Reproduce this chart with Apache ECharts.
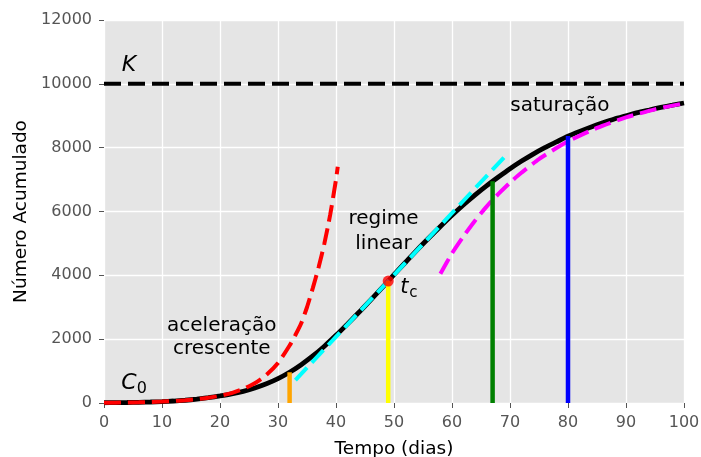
<!DOCTYPE html>
<html>
<head>
<meta charset="utf-8">
<script src="https://cdn.jsdelivr.net/npm/echarts@6/dist/echarts.min.js"></script>
<style>
html,body{margin:0;padding:0;background:#fff;}
#chart{width:701px;height:457px;}
</style>
</head>
<body>
<div id="chart"></div>
<script>
// ---- data ----
const K = 10000;
const tCurve = [0,2,4,6,8,10,12,14,16,18,20,22,24,26,28,30,32,34,36,38,40,42,44,46,48,49,50,52,54,56,58,60,62,64,66,68,70,72,74,76,78,80,82,84,86,88,90,92,94,96,98,100];
const cCurve = [8,11,16,22,32,44,62,86,120,165,220,284,366,470,600,762,962,1200,1473,1780,2120,2480,2850,3230,3620,3820,4020,4410,4800,5170,5530,5880,6210,6520,6810,7080,7340,7580,7800,8000,8180,8360,8510,8650,8780,8900,9000,9100,9180,9260,9330,9400];

const tAccel = [0,2,4,6,8,10,12,14,16,18,20,22,24,26,28,30,32,33,34,35,36,37,38,39,40,40.3];
const cAccel = [8,11,16,22,32,44,62,86,120,165,225,310,440,620,880,1250,1800,2130,2500,3000,3600,4250,5000,5900,7000,7400];

const tLinear = [33, 69.6];
const cLinear = [716, 7816];

const tSat = [58,60,62,64,66,68,70,72,75,78,80,85,90,95,100];
const cSat = [4050,4690,5230,5720,6160,6550,6905,7220,7640,7990,8200,8620,8950,9200,9390];

const tMarks = [32, 49, 67, 80];
const cMarks = [962, 3820, 6950, 8365];
const markColors = ['#FFA500', '#FFFF00', '#008000', '#0000FF'];

const tc = 49, cTc = 3820;

const xTicks = [0,10,20,30,40,50,60,70,80,90,100];
const yTicks = [0,2000,4000,6000,8000,10000,12000];

// ---- chart ----
const chart = echarts.init(document.getElementById('chart'), null, {renderer:'canvas'});
const FONT = 'DejaVu Sans';
const zip = (a,b) => a.map((v,i)=>[v,b[i]]);
const dash = [17,7];

const series = [
  {type:'line', data: zip(tCurve,cCurve), showSymbol:false, smooth:0.2,
   lineStyle:{color:'#000', width:4.8}, z:2, silent:true},
  {type:'line', data: [[xTicks[0],K],[xTicks[xTicks.length-1],K]], showSymbol:false,
   lineStyle:{color:'#000', width:4, type:dash}, z:3, silent:true},
  {type:'line', data: zip(tAccel,cAccel), showSymbol:false, smooth:0.2,
   lineStyle:{color:'#FF0000', width:4, type:dash}, z:4, silent:true},
  {type:'line', data: zip(tLinear,cLinear), showSymbol:false,
   lineStyle:{color:'#00FFFF', width:4, type:dash}, z:4, silent:true},
  {type:'line', data: zip(tSat,cSat), showSymbol:false, smooth:0.2,
   lineStyle:{color:'#FF00FF', width:4, type:dash}, z:4, silent:true}
];
tMarks.forEach((t,i)=>{
  series.push({type:'line', data:[[t,0],[t,cMarks[i]]], showSymbol:false,
    lineStyle:{color:markColors[i], width:4.5, cap:'butt'}, z:5, silent:true});
});
series.push({type:'scatter', data:[[tc,cTc]], symbolSize:11,
  itemStyle:{color:'#FF0000'}, z:6, silent:true});

chart.setOption({
  animation:false,
  backgroundColor:'#fff',
  grid:{left:104, right:17, top:20, bottom:54, show:true, backgroundColor:'#E5E5E5', borderWidth:0,
        containLabel:false, outerBoundsMode:'none'},
  xAxis:{type:'value', min:xTicks[0], max:xTicks[xTicks.length-1], interval:10,
    name:'Tempo (dias)', nameLocation:'middle', nameGap:37,
    nameTextStyle:{fontFamily:FONT, fontSize:18.5, color:'#000'},
    axisLine:{show:false},
    axisTick:{show:true, length:5, lineStyle:{color:'#555', width:1}},
    axisLabel:{fontFamily:FONT, fontSize:16, color:'#555', margin:12, formatter:(v)=>String(v)},
    splitLine:{show:true, lineStyle:{color:'#fff', width:1.3}}},
  yAxis:{type:'value', min:yTicks[0], max:yTicks[yTicks.length-1], interval:2000,
    name:'Número Acumulado', nameLocation:'middle', nameGap:68,
    nameTextStyle:{fontFamily:FONT, fontSize:18.5, color:'#000'},
    axisLine:{show:false},
    axisTick:{show:true, length:5, lineStyle:{color:'#555', width:1}},
    axisLabel:{fontFamily:FONT, fontSize:16, color:'#555', margin:12, formatter:(v)=>String(v)},
    splitLine:{show:true, lineStyle:{color:'#fff', width:1.3}}},
  series: series
});

// ---- annotations anchored in data coordinates ----
function px(t,c){ return chart.convertToPixel({gridIndex:0},[t,c]); }
function txt(p, text, size, style, dx, dy, lh){
  return {type:'text', x:p[0]+(dx||0), y:p[1]+(dy||0), z:100, silent:true,
    style:{text:text, fontFamily:FONT, fontSize:size, fontStyle:style||'normal',
      fill:'#000', align:'center', verticalAlign:'middle', lineHeight:lh||size*1.2}};
}
const pK = px(4.3, 10590);
const pC = px(4.3, 611);
const pT = px(51.8, 3603);
const pAcc = px(20.3, 2070);
const pReg = px(48.2, 5390);
const pSat = px(78.6, 9300);
chart.setOption({graphic:[
  txt(pK,'K',22,'italic'),
  txt(pC,'C',22,'italic'),
  txt(pC,'0',16,'normal',13,5),
  txt(pT,'t',21,'italic'),
  txt(pT,'c',15,'normal',9,5),
  txt(pAcc,'aceleração\ncrescente',20,'normal',0,0,23),
  txt(pReg,'regime\nlinear',20,'normal',0,0,25),
  txt(pSat,'saturação',20,'normal')
]});
</script>
</body>
</html>
